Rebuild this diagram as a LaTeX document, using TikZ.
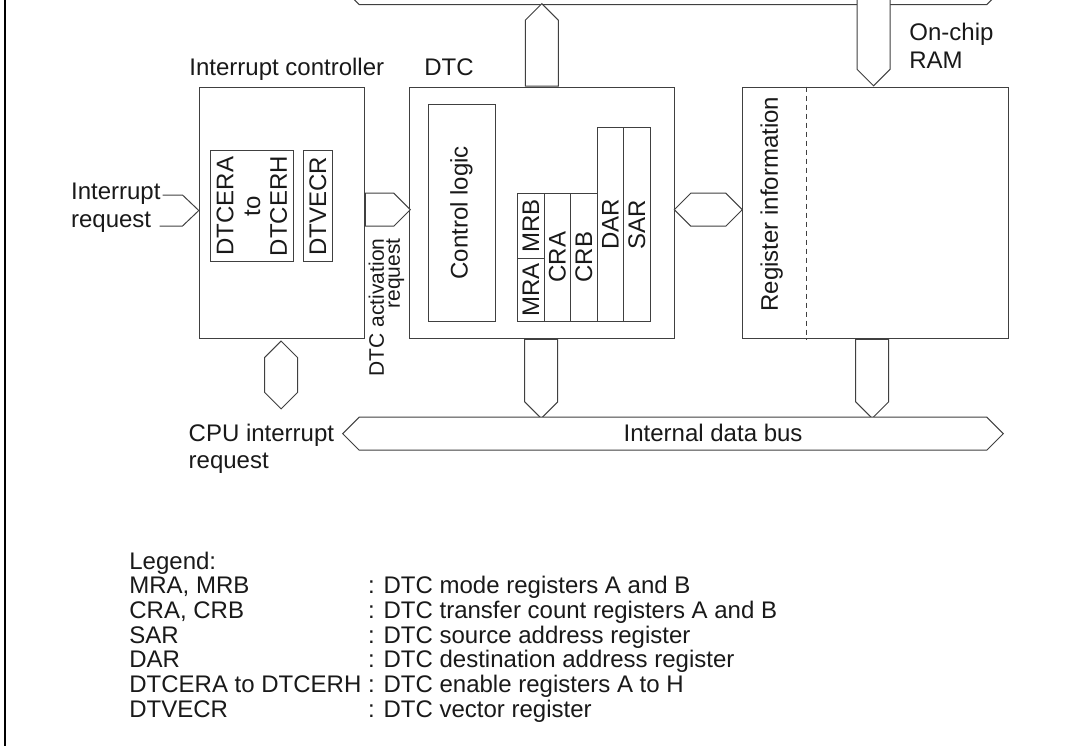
\documentclass[tikz,border=0pt]{standalone}
\usepackage{fontspec}
\setmainfont{Liberation Sans}
\usetikzlibrary{shapes,calc}

\tikzset{
  blk/.style={draw=black!75,line width=0.5pt,inner sep=0pt},
  wire/.style={draw=black!75,line width=0.5pt},
  bus/.style={wire,fill=white,inner sep=0pt,minimum width=16.5pt},
  dbus/.style={bus,double arrow,double arrow head extend=0pt},
  sbus/.style={bus,single arrow,single arrow head extend=0pt},
  reg/.style={blk,rotate=90,minimum height=13.25pt},
}

\begin{document}
\begin{tikzpicture}[x=0.5pt,y=0.5pt,font=\fontsize{12}{14}\selectfont,text=black!90]
  \useasboundingbox (0,0) rectangle (1066,-746);
  \clip (0,0) rectangle (1066,-746);
  \draw[line width=1.25pt] (5,0) -- (5,-746);

  \node[blk,minimum width=82.5pt,minimum height=125.65pt] (IC) at (281.8,-212.7) {};
  \node[blk,minimum width=132.5pt,minimum height=125.65pt] (DTC) at (541.8,-212.7) {};
  \node[blk,minimum width=132.85pt,minimum height=125.65pt] (RAM) at (875.15,-212.7) {};
  \node[anchor=base west,inner sep=0pt] (ICname) at (189,-75.5) {Interrupt controller};
  \node[anchor=base west,inner sep=0pt] (DTCname) at (424,-75.5) {DTC};
  \node[anchor=base west,inner sep=0pt,align=left] (RAMname) at (909,-68) {On-chip\\RAM};

  % interrupt controller
  \node[blk,rotate=90,minimum width=55.5pt,minimum height=41.85pt,align=center,
    font=\fontsize{12}{13.35}\selectfont] (DTCER) at (251.85,-206.2) {DTCERA\\to\\DTCERH};
  \node[blk,rotate=90,minimum width=55.5pt,minimum height=14.85pt] (DTVECR) at (317.85,-206.2) {DTVECR};

  % DTC
  \node[blk,rotate=90,minimum width=108.25pt,minimum height=33.5pt] (CTL) at (461.5,-212.75) {Control logic};
  \node[reg,minimum width=32.5pt] (MRB) at (530.95,-225.8) {MRB};
  \node[reg,minimum width=31.35pt] (MRA) at (530.95,-289.65) {MRA};
  \node[reg,minimum width=63.85pt] (CRA) at (557.45,-257.15) {CRA};
  \node[reg,minimum width=63.85pt] (CRB) at (583.95,-257.15) {CRB};
  \node[reg,minimum width=96.65pt] (DAR) at (610.45,-224.35) {DAR};
  \node[reg,minimum width=96.65pt] (SAR) at (636.95,-224.35) {SAR};

  % on-chip RAM
  \draw[wire,dash pattern=on 2.5pt off 2pt] ($(RAM.north west)+(64.7,0)$) -- ($(RAM.south west)+(64.7,0)$);
  \node[rotate=90,inner sep=0pt] (reginfo) at (771.7,-204) {Register information};

  % buses
  \node[dbus,minimum height=330.3pt] (topbus) at (673,12) {};
  \node[sbus,rotate=-90,minimum height=48pt,anchor=tip] (top2ram) at ($(RAM.north)+(-1.6,0)$) {};
  \node[sbus,rotate=90,minimum height=41.2pt,anchor=tail] (dtc2top) at (DTC.north) {};
  \node[sbus,minimum height=22.5pt,anchor=tail] (ic2dtc) at ($(IC.east)+(0,3)$) {};
  \node[dbus,minimum height=34pt] (dtc2ram) at (708.3,-209.7) {};
  \node[dbus,rotate=90,minimum height=33.9pt] (ic2cpu) at ($(IC.south)+(-0.7,-36.1)$) {};
  \node[sbus,rotate=-90,minimum height=39.5pt,anchor=tail] (dtc2bus) at ($(DTC.south)+(-0.6,0)$) {};
  \node[sbus,rotate=-90,minimum height=39.5pt,anchor=tail] (ram2bus) at ($(RAM.south)+(-3,0)$) {};
  \node[dbus,minimum height=330.3pt] (idbus) at (673,-433.65) {};
  \node[anchor=base west,inner sep=0pt] (idbuslab) at (623.3,-441.7) {Internal data bus};

  \coordinate (irqtip) at ($(IC.west)+(0,2.2)$);
  \draw[wire] ($(irqtip)+(-36.3,15.5)$) -- ++(20,0) -- (irqtip) -- ++(-16.3,-15.5) -- ++(-23,0);
  \node[anchor=base west,inner sep=0pt,align=left] (irqlab) at (70.7,-227.7) {Interrupt\\request};
  \node[rotate=90,align=right,inner sep=0pt,font=\fontsize{10.5}{8}\selectfont] (actlab)
    at (386.5,-307.3) {DTC activation\\request};
  \node[anchor=base west,inner sep=0pt,align=left,font=\fontsize{12}{13.3}\selectfont] (cpulab)
    at (188.3,-468.3) {CPU interrupt\\request};

  % legend
  \node[anchor=base west,inner sep=0pt,font=\fontsize{12}{12.25}\selectfont] (legend) at (129,-569) {%
    \begin{tabular}[t]{@{}l@{\ }l@{}}
      Legend: & \\
      MRA, MRB & : DTC mode registers A and B\\
      CRA, CRB & : DTC transfer count registers A and B\\
      SAR & : DTC source address register\\
      DAR & : DTC destination address register\\
      DTCERA to DTCERH & : DTC enable registers A to H\\
      DTVECR & : DTC vector register
    \end{tabular}};
\end{tikzpicture}
\end{document}
